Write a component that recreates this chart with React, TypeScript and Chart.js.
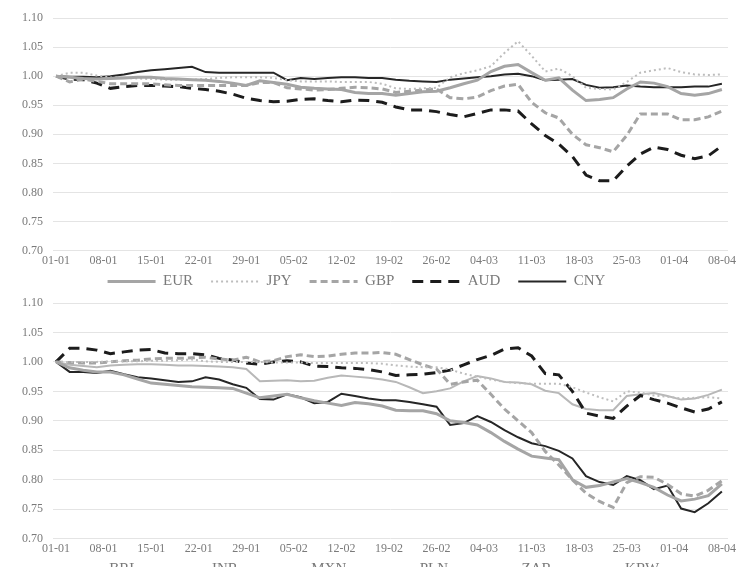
import React, { useEffect, useRef } from 'react';
import { Chart, registerables } from 'chart.js';

Chart.register(...registerables);

// Day index (days since 01-01) of each observation
const DAYS = [
  0, 2, 4, 6, 8, 10, 12, 14, 16, 18,
  20, 22, 24, 26, 28, 30, 32, 34, 36, 38,
  40, 42, 44, 46, 48, 50, 52, 54, 56, 58,
  60, 62, 64, 66, 68, 70, 72, 74, 76, 78,
  80, 82, 84, 86, 88, 90, 92, 94, 96, 98,
];

const TICK_DAYS = [0, 7, 14, 21, 28, 35, 42, 49, 56, 63, 70, 77, 84, 91, 98];
const TICK_LABELS = ['01-01', '08-01', '15-01', '22-01', '29-01', '05-02', '12-02', '19-02', '26-02', '04-03', '11-03', '18-03', '25-03', '01-04', '08-04'];

// Top panel
const EUR = [
  1.000, 0.998, 0.996, 0.995, 0.996, 0.997, 0.998, 0.998, 0.996, 0.995,
  0.994, 0.993, 0.991, 0.988, 0.984, 0.992, 0.989, 0.986, 0.981, 0.979,
  0.978, 0.977, 0.972, 0.970, 0.970, 0.967, 0.970, 0.973, 0.974, 0.980,
  0.987, 0.993, 1.008, 1.017, 1.020, 1.006, 0.993, 0.997, 0.976, 0.958,
  0.960, 0.963, 0.978, 0.990, 0.988, 0.982, 0.970, 0.967, 0.970, 0.977,
];
const JPY = [
  1.000, 1.006, 1.006, 1.001, 0.998, 0.997, 0.996, 0.995, 0.994, 0.994,
  0.994, 0.995, 0.997, 0.998, 0.998, 0.998, 0.997, 0.993, 0.991, 0.991,
  0.991, 0.990, 0.990, 0.990, 0.987, 0.979, 0.978, 0.979, 0.980, 0.998,
  1.005, 1.010, 1.017, 1.040, 1.060, 1.035, 1.008, 1.013, 1.000, 0.980,
  0.978, 0.977, 0.990, 1.006, 1.010, 1.014, 1.007, 1.003, 1.002, 1.003,
];
const GBP = [
  1.000, 0.990, 0.995, 0.991, 0.987, 0.987, 0.987, 0.987, 0.985, 0.984,
  0.984, 0.984, 0.984, 0.984, 0.984, 0.989, 0.989, 0.980, 0.978, 0.976,
  0.977, 0.979, 0.981, 0.980, 0.978, 0.972, 0.974, 0.976, 0.978, 0.963,
  0.961, 0.964, 0.975, 0.983, 0.986, 0.955, 0.937, 0.928, 0.900, 0.882,
  0.877, 0.870, 0.898, 0.935, 0.935, 0.935, 0.925, 0.925, 0.930, 0.940,
];
const AUD = [
  1.000, 0.995, 0.994, 0.988, 0.979, 0.982, 0.984, 0.984, 0.983, 0.982,
  0.979, 0.977, 0.974, 0.969, 0.962, 0.958, 0.956, 0.957, 0.960, 0.961,
  0.958, 0.956, 0.959, 0.958, 0.955, 0.947, 0.942, 0.942, 0.939, 0.934,
  0.930, 0.936, 0.942, 0.942, 0.940, 0.918, 0.898, 0.883, 0.862, 0.830,
  0.820, 0.820, 0.845, 0.866, 0.878, 0.874, 0.864, 0.858, 0.863, 0.880,
];
const CNY = [
  1.000, 0.999, 0.999, 0.998, 1.000, 1.003, 1.007, 1.010, 1.012, 1.014,
  1.016, 1.007, 1.006, 1.006, 1.006, 1.006, 1.006, 0.993, 0.997, 0.995,
  0.997, 0.998, 0.998, 0.997, 0.997, 0.994, 0.992, 0.991, 0.990, 0.994,
  0.996, 0.998, 1.000, 1.003, 1.004, 1.000, 0.993, 0.994, 0.995, 0.985,
  0.980, 0.981, 0.984, 0.982, 0.981, 0.981, 0.981, 0.982, 0.982, 0.987,
];

// Bottom panel
const BRL = [
  1.000, 0.990, 0.986, 0.983, 0.983, 0.978, 0.971, 0.964, 0.962, 0.960,
  0.958, 0.957, 0.956, 0.955, 0.947, 0.939, 0.942, 0.945, 0.939, 0.934,
  0.930, 0.926, 0.931, 0.929, 0.925, 0.918, 0.917, 0.917, 0.912, 0.900,
  0.897, 0.893, 0.880, 0.865, 0.852, 0.840, 0.837, 0.834, 0.800, 0.787,
  0.790, 0.796, 0.802, 0.795, 0.787, 0.774, 0.764, 0.767, 0.773, 0.793,
];
const INR = [
  1.000, 1.000, 1.000, 1.000, 1.001, 1.001, 1.001, 1.002, 1.002, 1.003,
  1.004, 1.001, 1.000, 1.000, 1.000, 1.000, 0.999, 0.999, 0.999, 0.998,
  0.998, 0.998, 0.998, 0.998, 0.997, 0.994, 0.992, 0.991, 0.991, 0.987,
  0.980, 0.975, 0.970, 0.966, 0.964, 0.963, 0.963, 0.963, 0.957, 0.948,
  0.940, 0.933, 0.950, 0.948, 0.943, 0.941, 0.938, 0.939, 0.940, 0.938,
];
const MXN = [
  1.000, 0.999, 0.998, 0.998, 1.000, 1.002, 1.003, 1.005, 1.006, 1.006,
  1.007, 1.008, 1.005, 1.003, 1.008, 1.000, 1.002, 1.009, 1.012, 1.009,
  1.010, 1.013, 1.015, 1.015, 1.016, 1.013, 1.004, 0.995, 0.988, 0.962,
  0.966, 0.969, 0.945, 0.920, 0.900, 0.880, 0.848, 0.825, 0.800, 0.777,
  0.763, 0.753, 0.795, 0.805, 0.804, 0.792, 0.776, 0.772, 0.782, 0.798,
];
const PLN = [
  1.000, 1.023, 1.023, 1.020, 1.014, 1.017, 1.020, 1.021, 1.015, 1.014,
  1.014, 1.012, 1.006, 1.003, 0.998, 0.996, 1.000, 1.002, 1.000, 0.993,
  0.992, 0.990, 0.989, 0.987, 0.983, 0.977, 0.978, 0.979, 0.982, 0.986,
  0.995, 1.004, 1.011, 1.022, 1.024, 1.010, 0.980, 0.978, 0.950, 0.913,
  0.908, 0.904, 0.925, 0.943, 0.936, 0.930, 0.922, 0.915, 0.920, 0.932,
];
const ZAR = [
  1.000, 0.983, 0.983, 0.981, 0.985, 0.979, 0.974, 0.972, 0.969, 0.966,
  0.967, 0.974, 0.970, 0.962, 0.956, 0.937, 0.936, 0.945, 0.940, 0.930,
  0.932, 0.946, 0.942, 0.938, 0.935, 0.935, 0.932, 0.928, 0.924, 0.893,
  0.896, 0.908, 0.898, 0.884, 0.872, 0.862, 0.857, 0.849, 0.836, 0.806,
  0.796, 0.791, 0.806, 0.799, 0.784, 0.790, 0.751, 0.745, 0.760, 0.780,
];
const KRW = [
  1.000, 0.995, 0.993, 0.991, 0.994, 0.995, 0.996, 0.996, 0.995, 0.994,
  0.994, 0.993, 0.992, 0.991, 0.988, 0.967, 0.968, 0.969, 0.967, 0.968,
  0.973, 0.977, 0.975, 0.973, 0.970, 0.966, 0.957, 0.947, 0.950, 0.955,
  0.967, 0.976, 0.972, 0.966, 0.965, 0.962, 0.951, 0.947, 0.928, 0.920,
  0.918, 0.918, 0.942, 0.945, 0.947, 0.942, 0.936, 0.938, 0.944, 0.953,
];

const Y_MIN = 0.7;
const Y_MAX = 1.1;
const Y_STEP = 0.05;

// styles
const GRAY_SOLID = { color: '#a5a5a5', width: 3, dash: [] as number[] };
const LIGHT_DOT = { color: '#bdbdbd', width: 2, dash: [2, 3] };
const GRAY_DASH = { color: '#a5a5a5', width: 3, dash: [7, 4] };
const BLACK_DASH = { color: '#1c1c1c', width: 3, dash: [11, 7] };
const BLACK_SOLID = { color: '#262626', width: 2, dash: [] as number[] };
const LIGHT_SOLID = { color: '#b8b8b8', width: 2, dash: [] as number[] };

const TOP_SERIES = [
  { label: 'EUR', values: EUR, style: GRAY_SOLID },
  { label: 'JPY', values: JPY, style: LIGHT_DOT },
  { label: 'GBP', values: GBP, style: GRAY_DASH },
  { label: 'AUD', values: AUD, style: BLACK_DASH },
  { label: 'CNY', values: CNY, style: BLACK_SOLID },
];
const BOTTOM_SERIES = [
  { label: 'BRL', values: BRL, style: GRAY_SOLID },
  { label: 'INR', values: INR, style: LIGHT_DOT },
  { label: 'MXN', values: MXN, style: GRAY_DASH },
  { label: 'PLN', values: PLN, style: BLACK_DASH },
  { label: 'ZAR', values: ZAR, style: BLACK_SOLID },
  { label: 'KRW', values: KRW, style: LIGHT_SOLID },
];

const FONT = 'Liberation Serif, Times New Roman, serif';
const TEXT = '#7a7a7a';
const ITEM_GAP = '\u2003'; // spacing after each legend entry

function buildConfig(series: typeof TOP_SERIES): any {
  return {
    type: 'line',
    data: {
      datasets: series.map((s) => ({
        label: s.label,
        data: DAYS.map((d, i) => ({ x: d, y: s.values[i] })),
        borderColor: s.style.color,
        backgroundColor: s.style.color,
        borderWidth: s.style.width,
        borderDash: s.style.dash,
        pointRadius: 0,
        fill: false,
        tension: 0,
      })),
    },
    options: {
      animation: false,
      responsive: false,
      layout: { padding: { top: 18, right: 14, left: 0, bottom: 0 } },
      scales: {
        x: {
          type: 'linear',
          min: -0.45,
          max: 98.9,
          afterBuildTicks: (scale: any) => {
            scale.ticks = TICK_DAYS.map((v) => ({ value: v }));
          },
          ticks: {
            autoSkip: false,
            maxRotation: 0,
            padding: 3,
            color: TEXT,
            font: { family: FONT, size: 12 },
            callback: (v: any) => TICK_LABELS[TICK_DAYS.indexOf(Number(v))] ?? '',
          },
          grid: { display: false, drawTicks: false, tickLength: 0 },
          border: { display: false },
        },
        y: {
          min: Y_MIN,
          max: Y_MAX,
          afterFit: (scale: any) => {
            scale.width = 53;
          },
          ticks: {
            stepSize: Y_STEP,
            padding: 10,
            color: TEXT,
            font: { family: FONT, size: 12 },
            callback: (v: any) => Number(v).toFixed(2),
          },
          grid: { color: '#e4e4e4', lineWidth: 1, drawTicks: false },
          border: { display: false },
        },
      },
      plugins: {
        tooltip: { enabled: false },
        legend: {
          position: 'bottom',
          onClick: () => {},
          labels: {
            usePointStyle: true,
            pointStyle: 'line',
            pointStyleWidth: 48,
            padding: 3,
            color: TEXT,
            font: { family: FONT, size: 15 },
            generateLabels: (chart: any) => {
              const items = Chart.defaults.plugins.legend.labels.generateLabels(chart);
              return items.map((it: any) => {
                const ds = chart.data.datasets[it.datasetIndex];
                return {
                  ...it,
                  text: it.text + ITEM_GAP,
                  pointStyle: 'line',
                  strokeStyle: ds.borderColor,
                  fillStyle: ds.borderColor,
                  lineWidth: ds.borderWidth,
                  lineDash: ds.borderDash,
                  lineCap: 'butt',
                };
              });
            },
          },
        },
      },
    },
  };
}

function Panel({ series, top, height }: { series: typeof TOP_SERIES; top: number; height: number }) {
  const ref = useRef<HTMLCanvasElement | null>(null);
  useEffect(() => {
    if (!ref.current) return;
    const chart = new Chart(ref.current, buildConfig(series));
    return () => chart.destroy();
  }, [series]);
  return (
    <canvas
      ref={ref}
      width={742}
      height={height}
      style={{ position: 'absolute', left: 0, top, width: 742, height, display: 'block' }}
    />
  );
}

export default function App() {
  return (
    <div
      style={{
        position: 'fixed',
        left: 0,
        top: 0,
        width: 742,
        height: 567,
        overflow: 'hidden',
        background: '#ffffff',
      }}
    >
      <Panel series={TOP_SERIES} top={0} height={299} />
      <Panel series={BOTTOM_SERIES} top={285} height={302} />
    </div>
  );
}
